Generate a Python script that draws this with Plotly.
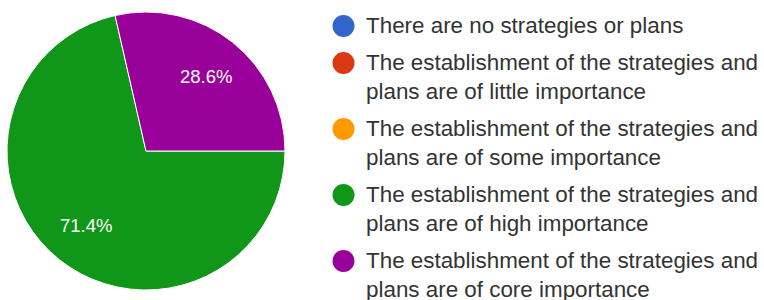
import math
import plotly.graph_objects as go

categories = [
    "There are no strategies or plans",
    "The establishment of the strategies and plans are of little importance",
    "The establishment of the strategies and plans are of some importance",
    "The establishment of the strategies and plans are of high importance",
    "The establishment of the strategies and plans are of core importance",
]
legend_lines = [
    ["There are no strategies or plans"],
    ["The establishment of the strategies and", "plans are of little importance"],
    ["The establishment of the strategies and", "plans are of some importance"],
    ["The establishment of the strategies and", "plans are of high importance"],
    ["The establishment of the strategies and", "plans are of core importance"],
]
values = [0, 0, 0, 5, 2]
colors = ["#3366cc", "#dc3912", "#ff9900", "#109618", "#990099"]

W, H = 764, 300
FONT = "Arial, Liberation Sans, sans-serif"

# pie geometry (pixels)
CX, CY, R = 146, 151, 139
START_DEG = 90  # first slice starts at 3 o'clock, clockwise

fig = go.Figure(go.Pie(
    labels=categories,
    values=values,
    marker=dict(colors=colors, line=dict(color="white", width=1)),
    sort=False,
    direction="clockwise",
    rotation=START_DEG,
    textinfo="none",
    domain=dict(x=[(CX - R) / W, (CX + R) / W], y=[(H - CY - R) / H, (H - CY + R) / H]),
    showlegend=False,
))

annotations = []
# slice percentage labels placed along each slice bisector
total = sum(values)
acc = 0.0
for v in values:
    if v > 0:
        mid = START_DEG + (acc + v / 2) / total * 360
        rr = 0.69 * R
        px = CX + rr * math.sin(math.radians(mid))
        py = CY - rr * math.cos(math.radians(mid))
        annotations.append(dict(
            text=f"{v / total * 100:.1f}%", x=px / W, y=1 - py / H,
            xref="paper", yref="paper", xanchor="center", yanchor="middle",
            showarrow=False, borderpad=0,
            font=dict(size=18.5, family=FONT, color="white"),
        ))
    acc += v

# manual legend
line_h = 29.0
gap = 8.0
top = 11.5
text_x = 365
circle_x = 343.5
circle_r = 11
shapes = []
for lines, col in zip(legend_lines, colors):
    cy = top + line_h / 2
    shapes.append(dict(
        type="circle", xref="paper", yref="paper",
        xsizemode="pixel", ysizemode="pixel",
        xanchor=circle_x / W, yanchor=1 - cy / H,
        x0=-circle_r, x1=circle_r, y0=-circle_r, y1=circle_r,
        fillcolor=col, line=dict(width=0),
    ))
    annotations.append(dict(
        text="<br>".join(lines), x=text_x / W, y=1 - top / H,
        xref="paper", yref="paper", xanchor="left", yanchor="top",
        align="left", showarrow=False, borderpad=0,
        font=dict(size=22.4, family=FONT, color="#333333"),
    ))
    top += len(lines) * line_h + gap

fig.update_layout(
    width=W, height=H,
    margin=dict(l=0, r=0, t=0, b=0),
    paper_bgcolor="white",
    plot_bgcolor="white",
    shapes=shapes,
    annotations=annotations,
)

fig.write_html(
    "out.html",
    config={"displayModeBar": False},
    post_script="document.body.style.margin='0';document.body.style.overflow='hidden';",
)
